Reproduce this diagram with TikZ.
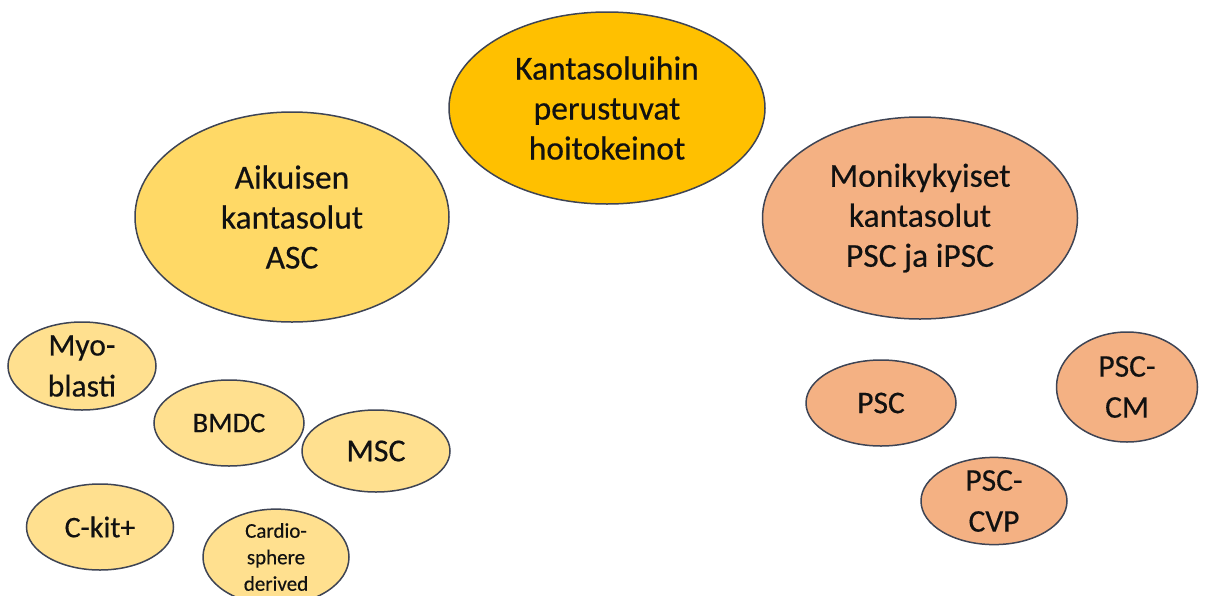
\documentclass[tikz,border=0pt]{standalone}
\usepackage{fontspec}
\setmainfont{Carlito}
\newfontfamily\cellfont{Carlito}[FakeBold=0.4]
\usetikzlibrary{shapes.geometric}
\definecolor{cgold}{HTML}{FFC000}
\definecolor{casc}{HTML}{FFD966}
\definecolor{csmall}{HTML}{FFE08F}
\definecolor{corange}{HTML}{F4B183}
\definecolor{cborder}{HTML}{3E4454}
\definecolor{ctext}{HTML}{111111}
\tikzset{
  cell/.style={ellipse, draw=cborder, line width=1.5pt, inner sep=0pt, align=center, text=ctext},
  bigfont/.style={font=\cellfont\fontsize{33.5}{40}\selectfont},
  smallfont/.style={font=\cellfont\fontsize{31.5}{41}\selectfont},
}
\begin{document}
\begin{tikzpicture}[x=1pt,y=-1pt]
\useasboundingbox (0,0) rectangle (1226,595);
\clip (0,0) rectangle (1226,595);
\node[cell, bigfont, fill=cgold, minimum width=316pt, minimum height=192pt] (root) at (607,108) {Kantasoluihin\\perustuvat\\hoitokeinot};
\node[cell, bigfont, fill=casc, minimum width=314pt, minimum height=210pt] (asc) at (292,217) {Aikuisen\\kantasolut\\ASC};
\node[cell, bigfont, fill=corange, minimum width=315pt, minimum height=202pt] (psc) at (920,218) {Monikykyiset\\kantasolut\\PSC ja iPSC};
\node[cell, smallfont, fill=csmall, minimum width=148pt, minimum height=88pt] (myo) at (82,366) {Myo-\\blasti};
\node[cell, fill=csmall, font=\cellfont\fontsize{28.5}{34}\selectfont, minimum width=150pt, minimum height=86pt] (bmdc) at (229,423) {BMDC};
\node[cell, fill=csmall, font=\cellfont\fontsize{32}{38}\selectfont, minimum width=148pt, minimum height=82pt] (msc) at (376,451) {MSC};
\node[cell, fill=csmall, font=\cellfont\fontsize{30}{34}\selectfont, minimum width=147pt, minimum height=86pt] (ckit) at (100,527) {C-kit+};
\node[cell, fill=csmall, font=\cellfont\fontsize{21}{26.5}\selectfont, minimum width=146pt, minimum height=88pt] (cardio) at (276,557) {Cardio-\\sphere\\derived};
\node[cell, smallfont, fill=corange, minimum width=150pt, minimum height=86pt] (pscs) at (881,403) {PSC};
\node[cell, smallfont, fill=corange, minimum width=141pt, minimum height=110pt] (pscm) at (1127,387) {PSC-\\CM};
\node[cell, smallfont, fill=corange, minimum width=146pt, minimum height=80pt] (pscvp) at (994,501) {PSC-\\CVP};
\end{tikzpicture}
\end{document}
